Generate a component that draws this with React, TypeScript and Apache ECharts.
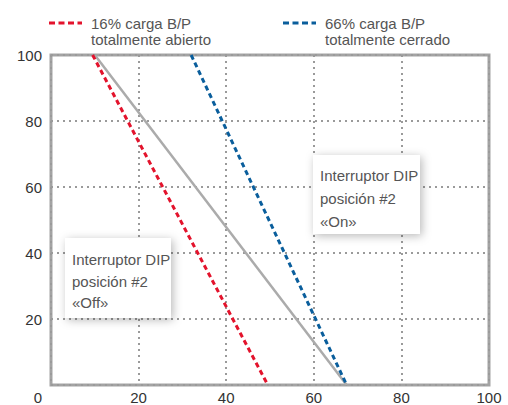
import React, { useEffect, useRef } from "react";
import * as echarts from "echarts";

const seriesNames = ["16% carga B/P\ntotalmente abierto", "66% carga B/P\ntotalmente cerrado"];
const redLine: [number, number][] = [[9.5, 100], [49.5, 0]];
const blueLine: [number, number][] = [[32, 100], [67.5, 0]];
const grayLine: [number, number][] = [[10, 100], [67.5, 0]];
const xTicks = [0, 20, 40, 60, 80, 100];
const yTicks = [0, 20, 40, 60, 80, 100];
const boxOn = ["Interruptor DIP", "posición #2", "«On»"];
const boxOff = ["Interruptor DIP", "posición #2", "«Off»"];

const FONT = "'Liberation Sans', Arial, Helvetica, sans-serif";
const RED = "#e3132c";
const BLUE = "#0a5e9c";

export default function App() {
  const ref = useRef<HTMLDivElement>(null);
  useEffect(() => {
    document.body.style.margin = "0";
    if (!ref.current) return;
    const chart = echarts.init(ref.current, null, { renderer: "svg" });

    const legendItem = (x: number, color: string, name: string) => [
      {
        type: "line",
        shape: { x1: x, y1: 23, x2: x + 33, y2: 23 },
        style: { stroke: color, lineWidth: 3, lineDash: [6, 3.5] },
        z: 100,
      },
      {
        type: "text",
        x: x + 42,
        y: 15,
        style: {
          text: name,
          font: `15px ${FONT}`,
          fill: "#555",
          lineHeight: 16,
          verticalAlign: "top",
        },
        z: 100,
      },
    ];

    const box = (x: number, y: number, w: number, h: number, lines: string[], ys: number[]) => ({
      type: "group",
      z: 100,
      children: [
        {
          type: "rect",
          shape: { x, y, width: w, height: h },
          style: {
            fill: "#fff",
            shadowBlur: 10,
            shadowColor: "rgba(0,0,0,0.28)",
            shadowOffsetX: 2,
            shadowOffsetY: 2,
          },
          z: 100,
        },
        ...lines.map((t, i) => ({
          type: "text",
          x: x + 7,
          y: ys[i],
          style: {
            text: t,
            font: `15px ${FONT}`,
            fill: "#555",
            verticalAlign: "middle",
          },
          z: 101,
        })),
      ],
    });

    chart.setOption({
      animation: false,
      grid: {
        left: 51,
        right: 19,
        top: 55,
        bottom: 20,
        show: true,
        borderColor: "#a3a3a3",
        borderWidth: 3,
        backgroundColor: "transparent",
      },
      xAxis: {
        type: "value",
        min: xTicks[0],
        max: xTicks[xTicks.length - 1],
        interval: 20,
        axisLine: { show: false },
        axisTick: { show: false },
        axisLabel: {
          fontFamily: FONT,
          fontSize: 15,
          color: "#333",
          margin: 5,
          formatter: (v: number) => (v === 0 ? "" : String(v)),
        },
        splitLine: { lineStyle: { color: "#9a9a9a", width: 2, type: [2, 4] } },
      },
      yAxis: {
        type: "value",
        min: yTicks[0],
        max: yTicks[yTicks.length - 1],
        interval: 20,
        axisLine: { show: false },
        axisTick: { show: false },
        axisLabel: {
          fontFamily: FONT,
          fontSize: 15,
          color: "#333",
          margin: 9,
          formatter: (v: number) => (v === 0 ? "{z|0}" : String(v)),
          rich: { z: { fontFamily: FONT, fontSize: 15, color: "#333", padding: [24, 0, 0, 0] } },
        },
        splitLine: { lineStyle: { color: "#9a9a9a", width: 2, type: [2, 4] } },
      },
      series: [
        {
          name: "gray",
          type: "line",
          data: grayLine,
          symbol: "none",
          lineStyle: { color: "#ababab", width: 2.5 },
          z: 2,
        },
        {
          name: seriesNames[0],
          type: "line",
          data: redLine,
          symbol: "none",
          lineStyle: { color: RED, width: 3, type: [5, 3.5] },
          z: 3,
        },
        {
          name: seriesNames[1],
          type: "line",
          data: blueLine,
          symbol: "none",
          lineStyle: { color: BLUE, width: 3, type: [5, 3.5] },
          z: 3,
        },
      ],
      graphic: [
        ...legendItem(49, RED, seriesNames[0]),
        ...legendItem(283, BLUE, seriesNames[1]),
        box(313, 155, 107, 79, boxOn, [175, 198, 221]),
        box(65, 238, 106, 80, boxOff, [259, 281, 302]),
      ],
    });
    return () => chart.dispose();
  }, []);
  return <div ref={ref} style={{ width: 508, height: 405 }} />;
}
